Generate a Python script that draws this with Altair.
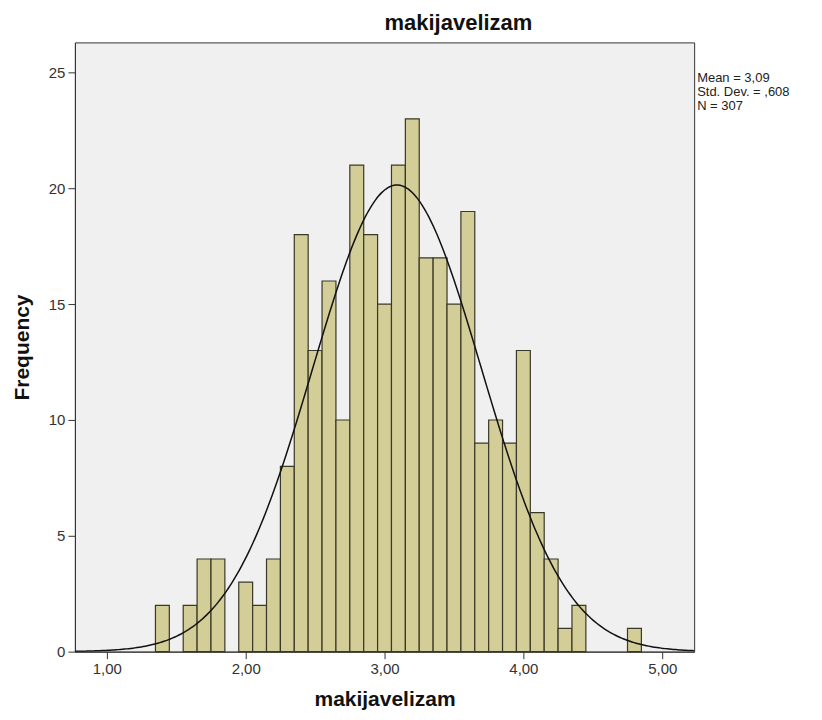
import altair as alt
import numpy as np
import pandas as pd

# Histogram data (bin centers, width 0.1)
bin_centers = [1.4, 1.5, 1.6, 1.7, 1.8, 1.9, 2.0, 2.1, 2.2, 2.3, 2.4, 2.5, 2.6, 2.7, 2.8,
               2.9, 3.0, 3.1, 3.2, 3.3, 3.4, 3.5, 3.6, 3.7, 3.8, 3.9, 4.0, 4.1, 4.2, 4.3,
               4.4, 4.5, 4.6, 4.7, 4.8]
counts = [2, 0, 2, 4, 4, 0, 3, 2, 4, 8, 18, 13, 16, 10, 21,
          18, 15, 21, 23, 17, 17, 15, 19, 9, 10, 9, 13, 6, 4, 1,
          2, 0, 0, 0, 1]
bin_width = 0.1

# Summary statistics shown on the chart
mean_val = 3.09
sd_val = 0.608
n_val = 307
stats_lines = ["Mean = 3,09", "Std. Dev. = ,608", "N = 307"]

x_ticks = [1, 2, 3, 4, 5]
y_ticks = [0, 5, 10, 15, 20, 25]
x_domain = [0.77, 5.23]
y_domain = [0, 26.3]

FONT = "Liberation Sans"

bars_df = pd.DataFrame({"center": bin_centers, "count": counts})
bars_df = bars_df[bars_df["count"] > 0]

xs = np.linspace(x_domain[0], x_domain[1], 300)
dens = n_val * bin_width / (sd_val * np.sqrt(2 * np.pi)) * np.exp(-0.5 * ((xs - mean_val) / sd_val) ** 2)
curve_df = pd.DataFrame({"x": xs, "y": dens})

W, H = 620, 610

xscale = alt.Scale(domain=x_domain, nice=False, zero=False)
yscale = alt.Scale(domain=y_domain, nice=False)

xaxis = alt.Axis(values=x_ticks, labelExpr="replace(format(datum.value, '.2f'), '.', ',')",
                 grid=False, tickSize=7, tickColor="#333333", domainColor="#333333",
                 labelFont=FONT, labelFontSize=15, labelColor="#333333", labelPadding=3,
                 title="makijavelizam", titleFont=FONT, titleFontSize=21, titleFontWeight="bold",
                 titleColor="#111111", titlePadding=12)
yaxis = alt.Axis(values=y_ticks, grid=False, tickSize=7, tickColor="#333333", domainColor="#333333",
                 labelFont=FONT, labelFontSize=15, labelColor="#333333", labelPadding=3,
                 title="Frequency", titleFont=FONT, titleFontSize=21, titleFontWeight="bold",
                 titleColor="#111111", titlePadding=16)

bars = alt.Chart(bars_df).transform_calculate(
    x0="datum.center - 0.05", x1="datum.center + 0.05"
).mark_bar(fill="#D3CE97", stroke="#3A3826", strokeWidth=1.2, opacity=1).encode(
    x=alt.X("x0:Q", scale=xscale, axis=xaxis),
    x2="x1:Q",
    y=alt.Y("count:Q", scale=yscale, axis=yaxis),
    y2=alt.datum(0),
)

curve = alt.Chart(curve_df).mark_line(color="#111111", strokeWidth=1.5, clip=True).encode(
    x=alt.X("x:Q", scale=xscale),
    y=alt.Y("y:Q", scale=yscale),
)

stats_df = pd.DataFrame({"line": stats_lines, "i": list(range(len(stats_lines)))})
stats = alt.Chart(stats_df).transform_calculate(
    py="36 + datum.i * 14"
).mark_text(align="left", baseline="middle", font=FONT, fontSize=13, color="#222222").encode(
    x=alt.value(W + 3),
    y=alt.Y("py:Q", scale=None),
    text="line:N",
)

chart = alt.layer(bars, curve, stats).properties(
    width=W, height=H,
    title=alt.TitleParams("makijavelizam", font=FONT, fontSize=22, fontWeight="bold",
                          color="#111111", anchor="middle", dx=74, offset=7),
    autosize=alt.AutoSizeParams(type="none"),
    padding={"left": 67, "top": 34, "right": 120, "bottom": 60},
).configure_view(
    fill="#F0F0F0", stroke="#333333", strokeWidth=1
)

chart.save("out.html", embed_options={"renderer": "svg", "actions": False})
